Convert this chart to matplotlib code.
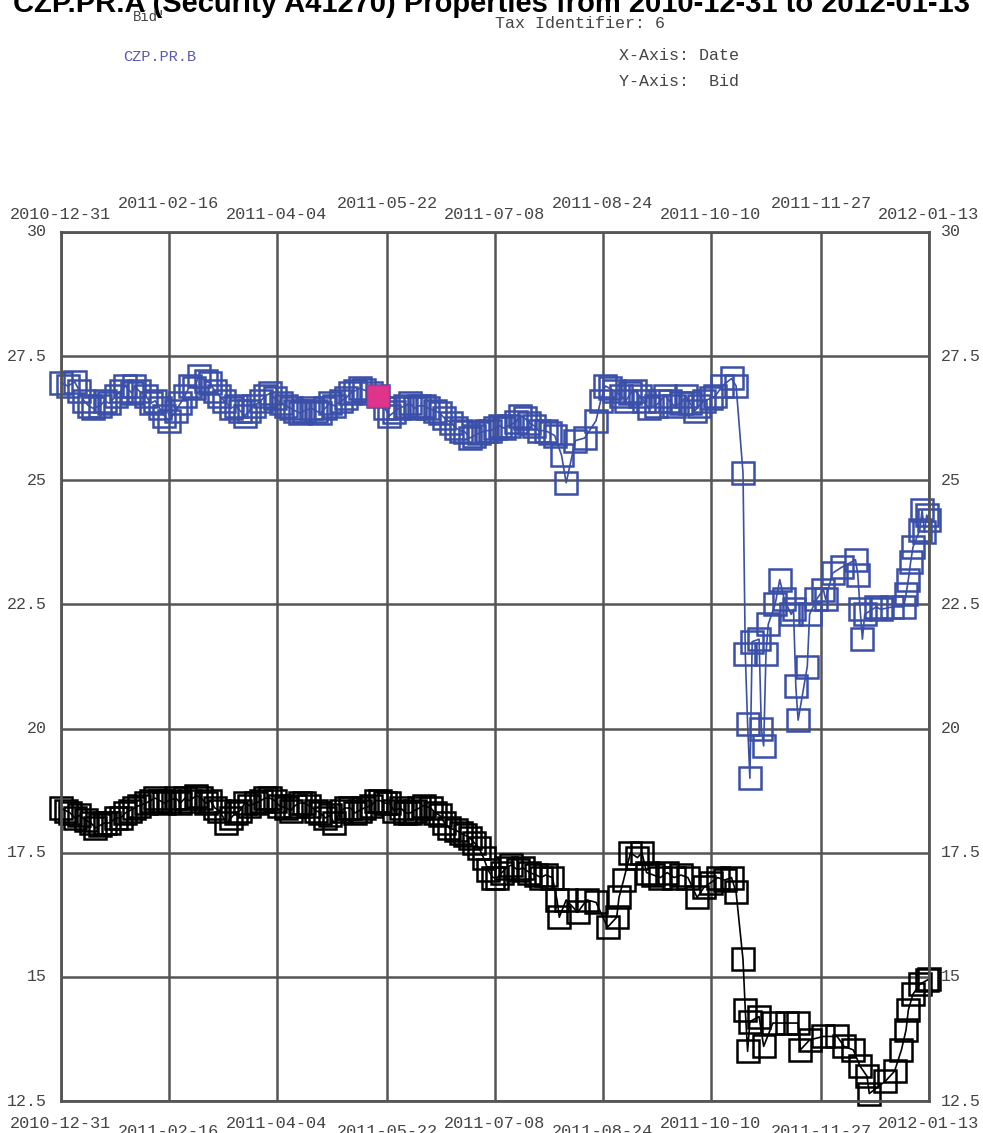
import pandas as pd
import matplotlib
matplotlib.use("Agg")
import matplotlib.pyplot as plt

# Données
tick_dates = ["2010-12-31", "2011-02-16", "2011-04-04", "2011-05-22", "2011-07-08",
              "2011-08-24", "2011-10-10", "2011-11-27", "2012-01-13"]
y_ticks = [12.5, 15, 17.5, 20, 22.5, 25, 27.5, 30]
y_labels = ["12.5", "15", "17.5", "20", "22.5", "25", "27.5", "30"]

# CZP.PR.B (bleu)
b_dates = ["2010-12-31", "2011-01-03", "2011-01-06", "2011-01-08", "2011-01-10", "2011-01-12",
           "2011-01-14", "2011-01-17", "2011-01-19", "2011-01-21", "2011-01-24", "2011-01-26",
           "2011-01-28", "2011-01-31", "2011-02-01", "2011-02-03", "2011-02-06", "2011-02-08",
           "2011-02-10", "2011-02-12", "2011-02-14", "2011-02-16", "2011-02-19", "2011-02-21",
           "2011-02-23", "2011-02-25", "2011-02-27", "2011-03-01", "2011-03-04", "2011-03-06",
           "2011-03-08", "2011-03-10", "2011-03-12", "2011-03-15", "2011-03-17", "2011-03-19",
           "2011-03-21", "2011-03-23", "2011-03-25", "2011-03-28", "2011-03-30", "2011-04-01",
           "2011-04-03", "2011-04-06", "2011-04-08", "2011-04-10", "2011-04-12", "2011-04-14",
           "2011-04-16", "2011-04-19", "2011-04-21", "2011-04-23", "2011-04-25", "2011-04-27",
           "2011-04-29", "2011-05-02", "2011-05-04", "2011-05-06", "2011-05-08", "2011-05-10",
           "2011-05-12", "2011-05-15", "2011-05-18", "2011-05-21", "2011-05-23", "2011-05-25",
           "2011-05-27", "2011-05-30", "2011-06-01", "2011-06-03", "2011-06-05", "2011-06-07",
           "2011-06-09", "2011-06-12", "2011-06-14", "2011-06-16", "2011-06-19", "2011-06-21",
           "2011-06-23", "2011-06-25", "2011-06-27", "2011-06-29", "2011-07-01", "2011-07-04",
           "2011-07-06", "2011-07-08", "2011-07-10", "2011-07-12", "2011-07-14", "2011-07-17",
           "2011-07-19", "2011-07-21", "2011-07-23", "2011-07-25", "2011-07-27", "2011-07-30",
           "2011-08-01", "2011-08-03", "2011-08-06", "2011-08-08", "2011-08-12", "2011-08-16",
           "2011-08-21", "2011-08-23", "2011-08-25", "2011-08-27", "2011-08-29", "2011-09-01",
           "2011-09-03", "2011-09-05", "2011-09-07", "2011-09-09", "2011-09-11", "2011-09-13",
           "2011-09-16", "2011-09-18", "2011-09-20", "2011-09-22", "2011-09-24", "2011-09-27",
           "2011-09-29", "2011-10-01", "2011-10-03", "2011-10-05", "2011-10-07", "2011-10-10",
           "2011-10-12", "2011-10-15", "2011-10-19", "2011-10-21", "2011-10-24",
           "2011-10-25", "2011-10-26", "2011-10-27", "2011-10-28", "2011-10-31", "2011-11-01",
           "2011-11-02", "2011-11-03", "2011-11-04", "2011-11-07", "2011-11-09", "2011-11-11",
           "2011-11-14", "2011-11-15", "2011-11-16", "2011-11-17", "2011-11-21", "2011-11-22",
           "2011-11-25", "2011-11-28", "2011-11-29", "2011-12-02", "2011-12-06", "2011-12-12",
           "2011-12-13", "2011-12-14", "2011-12-15", "2011-12-16", "2011-12-21", "2011-12-23",
           "2011-12-28", "2012-01-02", "2012-01-03", "2012-01-04", "2012-01-05", "2012-01-06",
           "2012-01-09", "2012-01-10", "2012-01-11", "2012-01-12", "2012-01-13"]
b_bid = [26.96, 26.9, 26.98, 26.8, 26.6, 26.5,
         26.45, 26.5, 26.6, 26.55, 26.7, 26.8,
         26.9, 26.75, 26.9, 26.8, 26.7, 26.55,
         26.6, 26.45, 26.3, 26.2, 26.4, 26.55,
         26.7, 26.9, 26.85, 27.1, 27.0, 26.95,
         26.8, 26.7, 26.6, 26.45, 26.5, 26.4,
         26.3, 26.4, 26.5, 26.6, 26.7, 26.75,
         26.65, 26.55, 26.5, 26.45, 26.4, 26.35,
         26.4, 26.45, 26.4, 26.35, 26.45, 26.55,
         26.5, 26.6, 26.65, 26.75, 26.8, 26.85,
         26.82, 26.75, 26.7, 26.45, 26.3, 26.37,
         26.45, 26.5, 26.55, 26.45, 26.5, 26.5,
         26.45, 26.4, 26.35, 26.25, 26.15, 26.05,
         26.0, 25.97, 25.85, 25.9, 25.95, 26.0,
         26.0, 26.05, 26.1, 26.05, 26.1, 26.17,
         26.3, 26.25, 26.15, 26.1, 26.0, 26.0,
         25.95, 25.9, 25.5, 24.95, 25.8, 25.85,
         26.2, 26.6, 26.9, 26.85, 26.8, 26.7,
         26.6, 26.75, 26.8, 26.7, 26.6, 26.45,
         26.5, 26.6, 26.7, 26.6, 26.5, 26.55,
         26.7, 26.55, 26.4, 26.5, 26.6, 26.65,
         26.7, 26.9, 27.05, 26.9, 25.15,
         21.5, 20.1, 19.0, 21.75, 21.8, 20.0,
         19.65, 21.5, 22.1, 22.5, 23.0, 22.6,
         22.3, 22.4, 20.85, 20.17, 21.25, 22.3,
         22.6, 22.8, 22.6, 23.13, 23.25, 23.4,
         23.1, 22.4, 21.8, 22.3, 22.45, 22.4,
         22.45, 22.45, 22.7, 23.0, 23.35, 23.65,
         24.0, 24.4, 23.95, 24.3, 24.2]

# CZP.PR.A (noir)
a_dates = ["2010-12-31", "2011-01-02", "2011-01-04", "2011-01-06", "2011-01-08", "2011-01-11",
           "2011-01-13", "2011-01-15", "2011-01-17", "2011-01-19", "2011-01-21", "2011-01-24",
           "2011-01-26", "2011-01-28", "2011-01-30", "2011-02-01", "2011-02-03", "2011-02-06",
           "2011-02-08", "2011-02-10", "2011-02-12", "2011-02-14", "2011-02-16", "2011-02-19",
           "2011-02-21", "2011-02-23", "2011-02-25", "2011-02-28", "2011-03-02", "2011-03-04",
           "2011-03-06", "2011-03-08", "2011-03-10", "2011-03-13", "2011-03-15", "2011-03-17",
           "2011-03-19", "2011-03-21", "2011-03-23", "2011-03-26", "2011-03-28", "2011-03-30",
           "2011-04-01", "2011-04-03", "2011-04-05", "2011-04-08", "2011-04-10", "2011-04-12",
           "2011-04-14", "2011-04-16", "2011-04-18", "2011-04-21", "2011-04-23", "2011-04-25",
           "2011-04-27", "2011-04-29", "2011-05-02", "2011-05-04", "2011-05-06", "2011-05-08",
           "2011-05-10", "2011-05-12", "2011-05-15", "2011-05-17", "2011-05-19", "2011-05-21",
           "2011-05-23", "2011-05-25", "2011-05-28", "2011-05-30", "2011-06-01", "2011-06-03",
           "2011-06-05", "2011-06-07", "2011-06-10", "2011-06-12", "2011-06-14", "2011-06-16",
           "2011-06-18", "2011-06-21", "2011-06-23", "2011-06-25", "2011-06-27", "2011-06-29",
           "2011-07-01", "2011-07-03", "2011-07-05", "2011-07-07", "2011-07-09", "2011-07-11",
           "2011-07-13", "2011-07-15", "2011-07-18", "2011-07-20", "2011-07-23", "2011-07-26",
           "2011-07-28", "2011-07-30", "2011-08-02", "2011-08-04", "2011-08-05", "2011-08-08",
           "2011-08-13", "2011-08-17", "2011-08-21", "2011-08-26", "2011-08-30", "2011-08-31",
           "2011-09-02", "2011-09-05", "2011-09-08", "2011-09-10", "2011-09-12", "2011-09-15",
           "2011-09-18", "2011-09-21", "2011-09-24", "2011-09-27", "2011-09-30", "2011-10-04",
           "2011-10-07", "2011-10-10", "2011-10-13", "2011-10-16", "2011-10-19", "2011-10-21",
           "2011-10-24", "2011-10-25", "2011-10-26", "2011-10-27", "2011-10-31",
           "2011-11-02", "2011-11-06", "2011-11-12", "2011-11-17", "2011-11-18", "2011-11-22",
           "2011-11-28", "2011-12-04", "2011-12-07", "2011-12-11", "2011-12-14", "2011-12-17",
           "2011-12-18", "2011-12-25", "2011-12-29", "2012-01-01", "2012-01-03", "2012-01-04",
           "2012-01-06", "2012-01-09", "2012-01-12", "2012-01-13"]
a_bid = [18.4, 18.35, 18.3, 18.2, 18.25, 18.15,
         18.1, 18.0, 18.05, 18.1, 18.1, 18.2,
         18.2, 18.3, 18.35, 18.4, 18.45, 18.5,
         18.55, 18.6, 18.55, 18.5, 18.55, 18.6,
         18.5, 18.6, 18.55, 18.65, 18.6, 18.5,
         18.55, 18.4, 18.35, 18.1, 18.2, 18.3,
         18.35, 18.5, 18.45, 18.5, 18.55, 18.6,
         18.6, 18.55, 18.45, 18.4, 18.35, 18.45,
         18.5, 18.5, 18.45, 18.35, 18.3, 18.2,
         18.25, 18.1, 18.35, 18.4, 18.4, 18.3,
         18.35, 18.4, 18.45, 18.55, 18.55, 18.5,
         18.5, 18.35, 18.4, 18.3, 18.3, 18.35,
         18.4, 18.45, 18.4, 18.3, 18.25, 18.1,
         18.0, 17.95, 17.9, 17.85, 17.8, 17.7,
         17.6, 17.4, 17.15, 17.0, 17.0, 17.1,
         17.2, 17.25, 17.15, 17.2, 17.1, 17.05,
         17.0, 17.05, 17.0, 16.55, 16.2, 16.55,
         16.3, 16.55, 16.5, 16.0, 16.2, 16.6,
         16.95, 17.5, 17.4, 17.5, 17.1, 17.05,
         17.0, 17.1, 17.0, 17.05, 17.0, 16.6,
         16.8, 16.9, 17.0, 16.95, 17.0, 16.7,
         15.35, 14.33, 13.5, 14.1, 14.2,
         13.6, 14.07, 14.07, 14.07, 13.53, 13.73,
         13.8, 13.8, 13.6, 13.53, 13.2, 13.0,
         12.65, 12.9, 13.1, 13.53, 13.93, 14.33,
         14.65, 14.85, 14.93, 14.95]

# point sélectionné (rose)
sel_date = "2011-05-18"
sel_bid = 26.7

assert len(b_dates) == len(b_bid) and len(a_dates) == len(a_bid)
b_dates = pd.to_datetime(b_dates)
a_dates = pd.to_datetime(a_dates)
ticks = pd.to_datetime(tick_dates)

W, H = 983, 1133
fig = plt.figure(figsize=(W / 100, H / 100), dpi=100)
ax = fig.add_axes([61 / W, 1 - 1101 / H, 868 / W, 869 / H])

blue = "#3a4fa8"
gray = "#555555"
txt = "#444444"
mono = "Liberation Mono"
ms = 16

ax.plot(a_dates, a_bid, color="black", lw=1.2, marker="s", ms=ms,
        mfc="none", mec="black", mew=1.8, clip_on=False)
ax.plot(b_dates, b_bid, color=blue, lw=1.2, marker="s", ms=ms,
        mfc="none", mec=blue, mew=1.8, clip_on=False)
ax.plot(pd.to_datetime([sel_date]), [sel_bid], marker="s", ms=ms, ls="none",
        mfc="#e0348c", mec="#c0307e", mew=1.0)

ax.set_xlim(ticks[0], ticks[-1])
ax.set_ylim(12.5, 30)
ax.set_xticks(ticks)
ax.set_yticks(y_ticks)
ax.set_xticklabels([])
ax.set_yticklabels([])
ax.tick_params(length=0)
ax.grid(True, color=gray, lw=1.8)
for s in ax.spines.values():
    s.set_color(gray)
    s.set_linewidth(2)

# étiquettes X alternées en haut et en bas
xt = ax.get_xaxis_transform()
for i, (t, lab) in enumerate(zip(ticks, tick_dates)):
    ytop = 1 + (28 if i % 2 else 18) / 869
    ybot = -(30 if i % 2 else 22) / 869
    ax.text(t, ytop, lab, transform=xt, ha="center", va="center",
            family=mono, fontsize=12.2, color=txt, clip_on=False)
    ax.text(t, ybot, lab, transform=xt, ha="center", va="center",
            family=mono, fontsize=12.2, color=txt, clip_on=False)

yt = ax.get_yaxis_transform()
for v, lab in zip(y_ticks, y_labels):
    ax.text(-14 / 868, v, lab, transform=yt, ha="right", va="center",
            family=mono, fontsize=12, color=txt, clip_on=False)
    ax.text(1 + 12 / 868, v, lab, transform=yt, ha="left", va="center",
            family=mono, fontsize=12, color=txt, clip_on=False)

# en-tête
fig.text(0.5, 1 - 12 / H, "CZP.PR.A (Security A41270) Properties from 2010-12-31 to 2012-01-13",
         ha="center", va="baseline", family="Liberation Sans", weight="bold",
         fontsize=21, color="black")
fig.text(133 / W, 1 - 17 / H, "Bid'", ha="left", va="center", family=mono,
         fontsize=10, color=txt)
fig.text(495 / W, 1 - 23 / H, "Tax Identifier: 6", ha="left", va="center",
         family=mono, fontsize=12, color=txt)
fig.text(123 / W, 1 - 57 / H, "CZP.PR.B", ha="left", va="center", family=mono,
         fontsize=11, color="#5a5ab0")
fig.text(619 / W, 1 - 56 / H, "X-Axis: Date", ha="left", va="center",
         family=mono, fontsize=12, color=txt)
fig.text(619 / W, 1 - 81 / H, "Y-Axis:  Bid", ha="left", va="center",
         family=mono, fontsize=12, color=txt)

fig.savefig("out.png", dpi=100)
